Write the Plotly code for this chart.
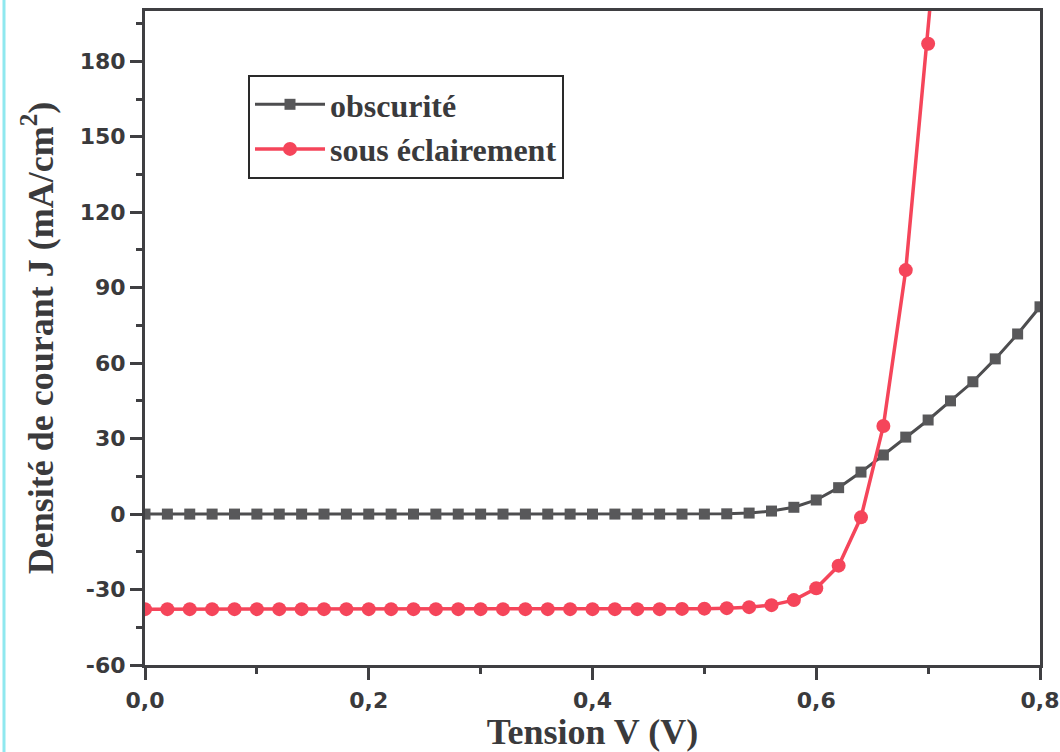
import plotly.graph_objects as go

voltage = [round(0.02 * i, 2) for i in range(41)]
dark_j = [0.0, 0.0, 0.0, 0.0, 0.0, 0.0, 0.0, 0.0, 0.0, 0.0,
          0.0, 0.0, 0.0, 0.0, 0.0, 0.0, 0.0, 0.0, 0.0, 0.0,
          0.0, 0.0, 0.0, 0.0, 0.0, 0.0, 0.1, 0.4, 1.2, 2.7,
          5.6, 10.5, 16.7, 23.5, 30.6, 37.4, 45.0, 52.6, 61.7, 71.6, 82.4]
light_v = [round(0.02 * i, 2) for i in range(37)]
light_j = [-37.8, -37.8, -37.8, -37.8, -37.8, -37.8, -37.8, -37.8, -37.8, -37.8,
           -37.8, -37.8, -37.8, -37.8, -37.8, -37.8, -37.8, -37.8, -37.8, -37.8,
           -37.8, -37.8, -37.8, -37.8, -37.7, -37.6, -37.4, -37.0, -36.2, -34.2,
           -29.5, -20.5, -1.3, 35.0, 97.0, 187.0, 290.0]
y_ticks = [-60, -30, 0, 30, 60, 90, 120, 150, 180]
y_tick_text = ["-60", "-30", "0", "30", "60", "90", "120", "150", "180"]
x_ticks = [0.0, 0.2, 0.4, 0.6, 0.8]
x_tick_text = ["0,0", "0,2", "0,4", "0,6", "0,8"]

gray = "#4d4d4f"
red = "#f5455a"
axis_col = "#3f3f42"

fig = go.Figure()
fig.add_trace(go.Scatter(
    x=voltage, y=dark_j, mode="lines+markers", name="obscurité",
    line=dict(color=gray, width=3),
    marker=dict(symbol="square", size=11, color="#58585a"),
))
fig.add_trace(go.Scatter(
    x=light_v, y=light_j, mode="lines+markers", name="sous éclairement",
    line=dict(color=red, width=3.5),
    marker=dict(symbol="circle", size=14, color=red),
))

tick_font = dict(family="DejaVu Sans", size=22, color="#3a3a3c", weight="bold")

fig.update_layout(
    width=1060, height=752,
    margin=dict(l=145, r=20, t=11, b=87, autoexpand=False),
    paper_bgcolor="white", plot_bgcolor="white",
    showlegend=True,
    legend=dict(
        x=(248 - 145) / 895, y=1 - (75 - 11) / 654, xanchor="left", yanchor="top",
        bordercolor="#2a2a2a", borderwidth=2, bgcolor="white",
        font=dict(family="Liberation Serif", size=32, color="#3a3a3c", weight="bold"),
        itemwidth=70, tracegroupgap=0,
    ),
    shapes=[dict(type="line", xref="paper", yref="paper",
                 x0=(4 - 145) / 895, x1=(4 - 145) / 895, y0=-87 / 654, y1=1 + 11 / 654,
                 line=dict(color="#8fe8ef", width=3))],
)

fig.update_xaxes(
    range=[0, 0.8], tickvals=x_ticks, ticktext=x_tick_text, automargin=False,
    showgrid=False, zeroline=False,
    showline=True, linecolor=axis_col, linewidth=3, mirror=True,
    ticks="outside", ticklen=12, tickwidth=3, tickcolor=axis_col,
    minor=dict(ticks="outside", ticklen=6, tickwidth=3, tickcolor=axis_col, dtick=0.1),
    tickfont=tick_font, ticklabelstandoff=2,
    title=dict(text="Tension V (V)",
               font=dict(family="Liberation Serif", size=36, color="#3a3a3c", weight="bold"),
               standoff=7),
)
fig.update_yaxes(
    range=[-60, 200], tickvals=y_ticks, ticktext=y_tick_text, automargin=False,
    showgrid=False, zeroline=False,
    showline=True, linecolor=axis_col, linewidth=3, mirror=True,
    ticks="outside", ticklen=12, tickwidth=3, tickcolor=axis_col,
    minor=dict(ticks="outside", ticklen=6, tickwidth=3, tickcolor=axis_col, dtick=15),
    tickfont=tick_font, ticklabelstandoff=0,
    title=dict(text="Densité de courant J (mA/cm<sup>2</sup>)",
               font=dict(family="Liberation Serif", size=36, color="#3a3a3c", weight="bold"),
               standoff=16),
)

fig.write_html("out.html")
